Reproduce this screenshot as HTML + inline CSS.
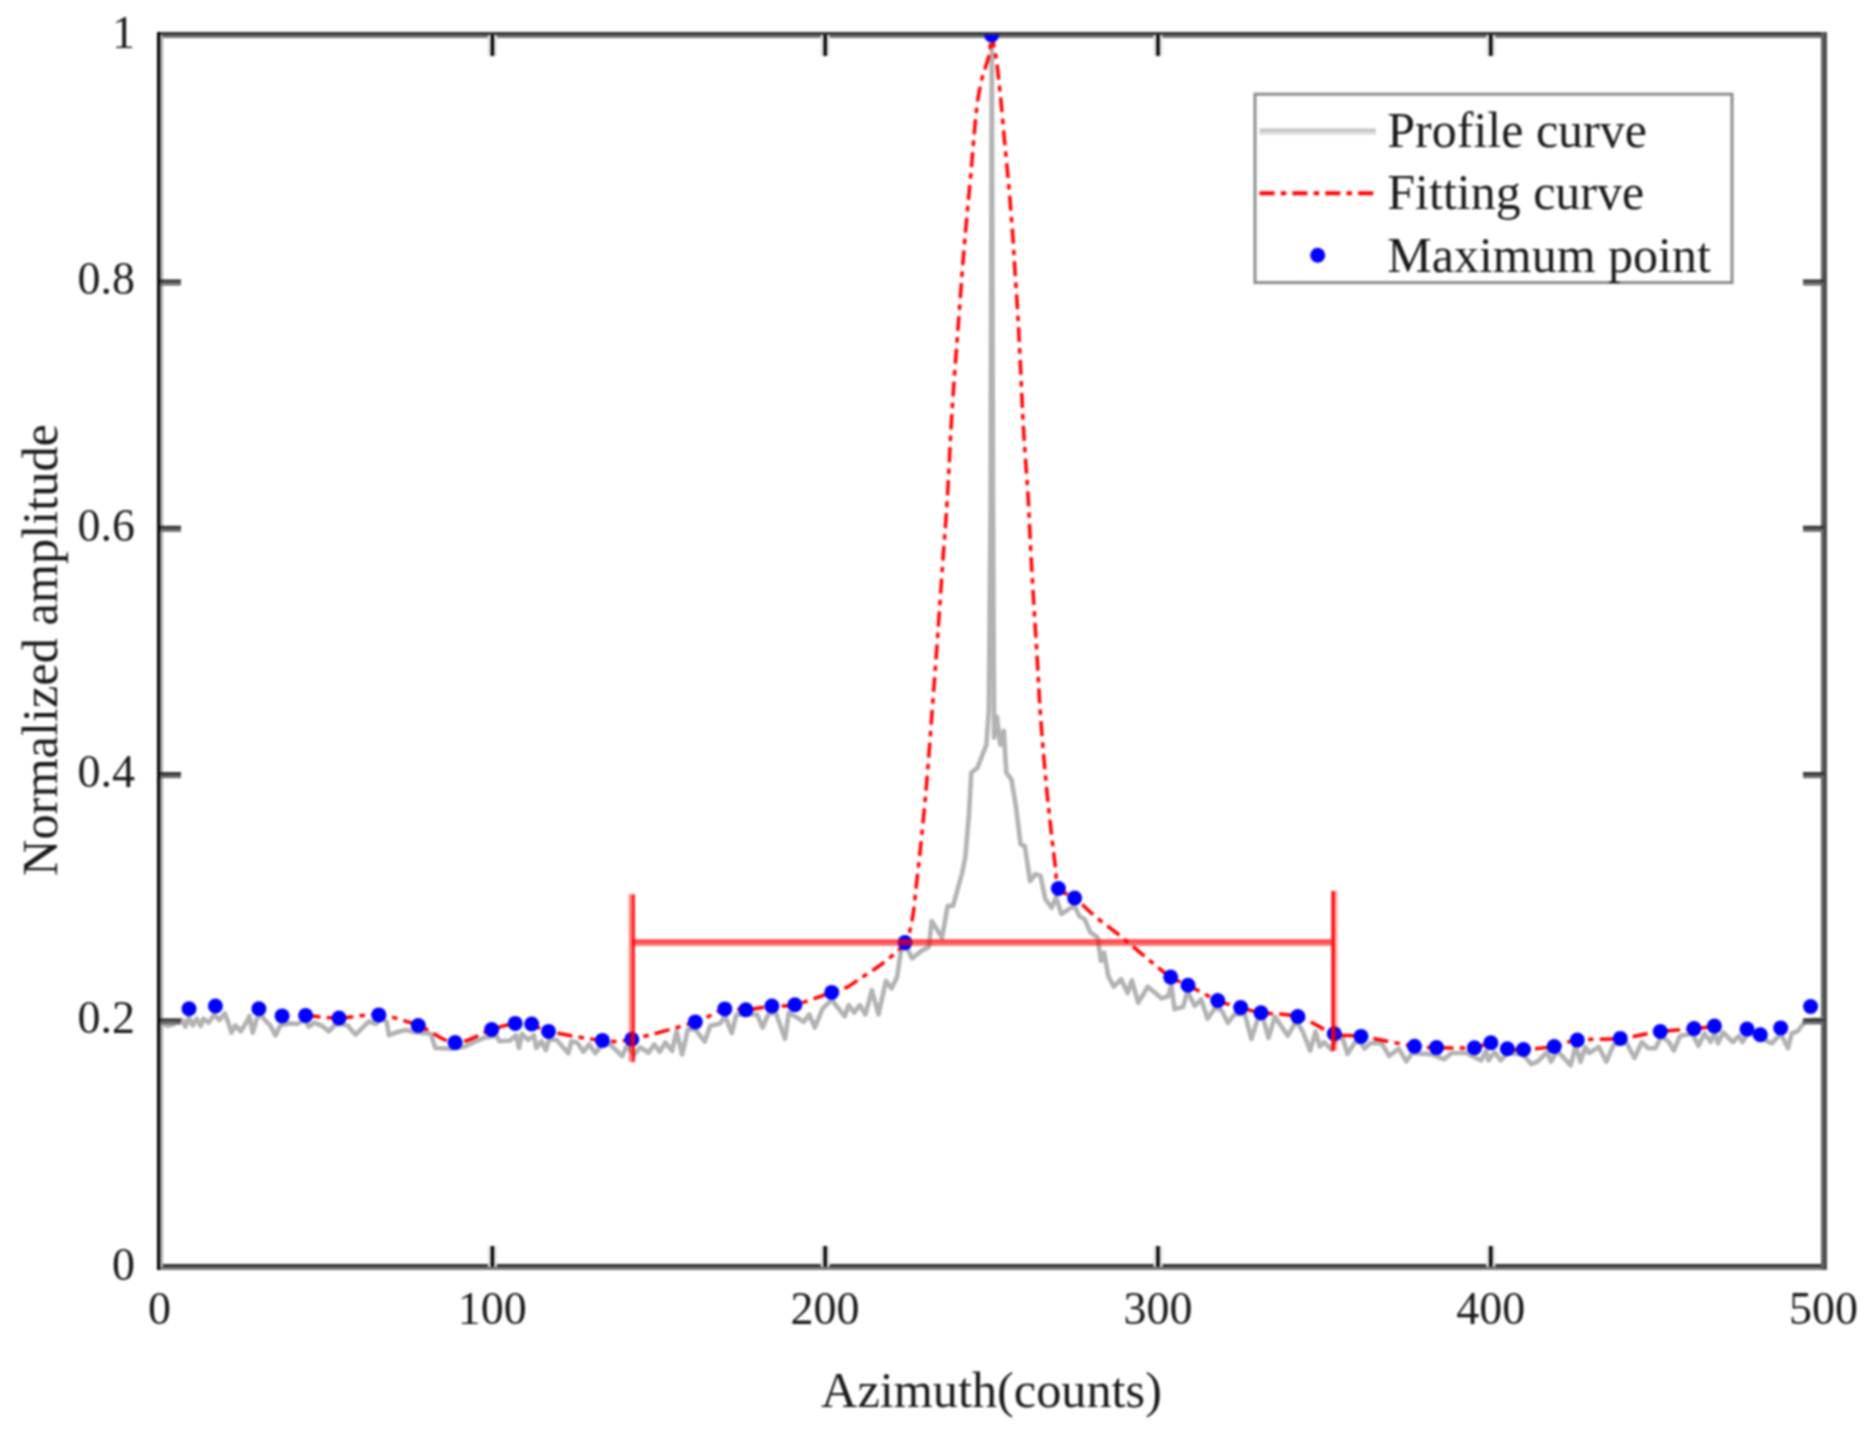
<!DOCTYPE html>
<html lang="en"><head><meta charset="utf-8"><title>Profile curve</title>
<style>html,body{margin:0;padding:0;background:#fff;}body{width:1873px;height:1430px;overflow:hidden;}svg{display:block;filter:blur(0.9px);}</style>
</head><body>
<svg width="1873" height="1430" viewBox="0 0 1873 1430">
<defs><clipPath id="plot"><rect x="160" y="35" width="1664" height="1231.7"/></clipPath></defs>
<rect width="1873" height="1430" fill="#fff"/>
<g shape-rendering="crispEdges">
<rect x="157" y="32.1" width="1670" height="3" fill="#333"/>
<rect x="157" y="35.1" width="1670" height="3" fill="#737373"/>
<rect x="157" y="1263.8" width="1670" height="3" fill="#333"/>
<rect x="157" y="1266.8" width="1670" height="3" fill="#777"/>
<rect x="157" y="32.1" width="3" height="1237.7" fill="#000"/>
<rect x="160" y="35.1" width="3" height="1231.7" fill="#a6a6a6"/>
<rect x="1821" y="32.1" width="3" height="1237.7" fill="#606060"/>
<rect x="1824" y="32.1" width="3" height="1237.7" fill="#4a4a4a"/>
</g>
<g clip-path="url(#plot)">
<g fill="none" stroke-linejoin="round" stroke-linecap="butt">
<path d="M160.0,1022.0 L167.4,1026.0 L174.0,1024.0 L182.0,1020.0 L185.4,1026.7 L188.7,1017.4 L192.7,1025.4 L196.7,1018.7 L200.7,1026.0 L203.4,1018.7 L208.7,1022.7 L214.1,1014.7 L219.4,1020.0 L224.8,1013.4 L228.8,1024.0 L231.4,1032.7 L235.4,1025.4 L240.8,1031.4 L246.1,1022.7 L249.5,1016.0 L252.8,1032.7 L256.8,1018.7 L260.8,1014.7 L264.8,1020.0 L270.2,1025.4 L275.5,1035.4 L280.2,1025.4 L288.9,1023.4 L296.9,1024.0 L304.9,1020.0 L308.9,1026.7 L314.2,1022.7 L322.2,1026.0 L328.9,1031.4 L334.2,1025.4 L340.9,1024.0 L347.6,1025.4 L355.6,1034.7 L363.6,1026.7 L369.0,1021.4 L375.6,1024.0 L382.3,1018.7 L386.7,1021.9 L389.0,1035.3 L396.4,1032.3 L406.2,1030.0 L414.4,1032.3 L430.8,1033.8 L435.3,1048.0 L451.8,1048.8 L465.2,1046.5 L475.7,1041.3 L484.6,1037.6 L496.6,1036.0 L499.6,1041.3 L510.0,1040.5 L516.0,1035.3 L519.0,1048.0 L522.0,1033.8 L528.0,1039.8 L534.0,1035.3 L536.2,1048.0 L541.5,1041.3 L545.9,1050.3 L548.9,1039.8 L556.4,1039.8 L562.4,1046.5 L568.4,1053.3 L571.4,1041.3 L577.3,1042.8 L583.3,1051.8 L589.3,1044.3 L595.3,1053.3 L601.3,1045.8 L610.2,1044.3 L616.2,1050.3 L622.2,1056.2 L626.7,1045.8 L634.2,1054.8 L640.1,1047.3 L648.6,1052.8 L654.2,1044.4 L659.8,1051.8 L665.4,1042.5 L672.0,1050.9 L676.6,1031.3 L682.2,1054.6 L687.8,1029.4 L695.3,1029.4 L704.7,1041.6 L710.3,1025.7 L719.6,1023.8 L725.2,1016.3 L731.8,1033.1 L736.4,1014.5 L749.5,1014.5 L757.0,1014.5 L762.6,1027.5 L768.2,1014.5 L775.7,1012.6 L785.0,1038.8 L788.8,1012.6 L798.1,1018.2 L803.7,1021.9 L809.3,1014.5 L814.9,1027.5 L822.4,1008.9 L831.7,999.5 L837.3,1007.0 L844.8,1016.3 L848.6,1005.1 L854.2,1012.6 L859.8,1005.1 L865.4,1014.5 L871.9,990.2 L878.5,1014.5 L885.9,980.8 L891.5,988.3 L897.1,977.1 L900.9,950.9 L906.5,947.0 L912.1,958.4 L921.4,950.9 L928.9,947.0 L931.7,921.0 L936.4,928.5 L942.0,937.8 L947.6,906.1 L953.1,905.6 L961.9,874.0 L965.4,856.6 L968.9,814.7 L971.3,772.7 L977.6,767.5 L982.9,753.5 L986.4,744.8 L988.8,709.8 L990.6,500.0 L991.8,36.0 L993.0,500.0 L994.1,737.8 L996.9,716.8 L1000.3,744.8 L1003.8,730.8 L1006.3,772.7 L1011.5,779.7 L1016.1,807.7 L1020.6,844.4 L1024.8,846.2 L1030.1,881.1 L1035.3,874.1 L1040.6,875.9 L1045.3,899.0 L1051.7,907.7 L1056.0,897.0 L1061.4,914.0 L1067.8,909.8 L1074.2,905.5 L1079.5,916.2 L1084.8,919.4 L1090.2,932.2 L1097.7,937.6 L1100.9,961.0 L1104.1,952.5 L1108.3,976.0 L1113.7,986.7 L1121.2,979.2 L1127.6,993.1 L1131.8,980.3 L1138.2,1002.7 L1147.8,986.7 L1155.3,993.1 L1161.7,998.4 L1168.1,996.3 L1171.3,984.5 L1174.5,1009.1 L1183.1,1007.0 L1187.4,991.0 L1194.8,1005.9 L1201.2,999.5 L1207.6,1018.7 L1215.1,1008.0 L1221.5,1010.2 L1227.9,1023.0 L1234.3,1014.4 L1245.0,1014.4 L1251.4,1039.0 L1257.8,1018.7 L1263.2,1018.7 L1268.5,1037.9 L1274.9,1016.6 L1287.7,1035.8 L1296.3,1020.8 L1302.7,1031.5 L1310.2,1050.7 L1315.5,1031.5 L1319.8,1046.5 L1324.0,1042.2 L1331.5,1049.7 L1336.9,1035.8 L1343.3,1040.0 L1347.5,1054.0 L1355.0,1042.2 L1360.3,1042.2 L1364.6,1048.6 L1370.0,1043.3 L1381.7,1043.3 L1389.2,1056.0 L1398.8,1048.6 L1406.3,1061.4 L1412.3,1053.0 L1432.0,1054.4 L1444.2,1059.3 L1451.6,1053.0 L1466.3,1053.0 L1481.0,1060.5 L1486.0,1050.7 L1488.4,1060.5 L1494.6,1052.0 L1500.7,1060.5 L1508.0,1053.0 L1522.8,1054.4 L1531.4,1064.2 L1537.5,1061.7 L1547.4,1052.0 L1551.0,1061.7 L1557.2,1050.7 L1570.7,1065.4 L1575.6,1045.8 L1580.5,1061.7 L1585.4,1047.0 L1589.1,1053.0 L1598.9,1047.0 L1606.3,1061.7 L1613.7,1044.6 L1626.0,1042.0 L1634.5,1058.0 L1641.9,1042.0 L1648.0,1048.2 L1655.4,1048.2 L1661.6,1036.0 L1668.9,1042.0 L1673.8,1050.7 L1680.0,1036.0 L1692.3,1033.5 L1698.4,1045.8 L1704.5,1033.5 L1710.7,1042.0 L1714.4,1032.3 L1718.0,1043.3 L1723.0,1032.3 L1732.8,1042.0 L1738.9,1036.0 L1742.6,1042.0 L1748.7,1032.3 L1761.0,1038.4 L1772.0,1043.3 L1780.7,1033.5 L1788.0,1048.2 L1791.7,1033.5 L1797.9,1031.0 L1805.2,1021.2 L1814.0,1019.5 L1824.0,1020.0" stroke="#b2b2b2" stroke-width="4.6"/>
<path d="M305.6,1015.4C311.2,1015.8 326.8,1018.1 339.0,1018.0C351.2,1017.9 365.6,1013.6 378.8,1014.9C392.0,1016.1 405.6,1020.9 418.3,1025.5C431.0,1030.1 442.9,1041.9 455.1,1042.6C467.3,1043.3 481.7,1032.7 491.7,1029.5C501.7,1026.3 508.5,1024.3 515.2,1023.4C521.9,1022.5 526.2,1022.7 531.7,1024.0C537.2,1025.3 536.7,1028.7 548.5,1031.4C560.3,1034.1 588.5,1039.1 602.4,1040.4C616.3,1041.7 616.3,1042.3 631.8,1039.2C647.3,1036.1 679.8,1027.0 695.3,1021.9C710.8,1016.8 716.4,1010.9 724.8,1008.9C733.2,1006.9 737.9,1010.3 745.8,1009.8C753.6,1009.3 763.7,1006.9 771.9,1006.0C780.1,1005.1 784.9,1007.0 794.9,1004.7C804.9,1002.4 823.1,995.3 831.7,992.4C840.3,989.5 842.0,989.7 846.7,987.4C851.4,985.1 855.5,981.5 860.0,978.5C864.5,975.5 869.3,972.7 873.8,969.6C878.3,966.5 881.8,964.5 887.0,960.0C892.2,955.5 900.8,949.3 905.0,942.6C909.2,935.9 910.3,929.3 912.2,919.6C914.1,909.9 914.8,898.6 916.4,884.6C918.0,870.6 920.0,853.1 921.7,835.7C923.5,818.3 925.1,801.0 926.9,780.0C928.6,759.0 930.5,733.3 932.2,710.0C934.0,686.7 935.6,664.5 937.4,640.0C939.1,615.5 941.1,586.3 942.7,563.0C944.3,539.7 945.8,523.5 947.2,500.0C948.7,476.5 950.1,443.7 951.4,422.0C952.7,400.3 953.7,386.6 954.9,369.7C956.1,352.8 957.4,337.0 958.6,320.7C959.8,304.4 961.2,285.4 962.2,271.8C963.2,258.2 964.0,249.9 964.9,239.0C965.8,228.1 966.8,217.3 967.8,206.4C968.8,195.5 969.9,184.5 970.9,173.6C971.9,162.7 972.6,152.2 973.6,141.0C974.6,129.8 975.7,116.1 976.9,106.4C978.1,96.7 979.5,89.6 980.9,83.0C982.3,76.4 984.1,71.8 985.5,67.0C986.9,62.2 988.3,59.3 989.3,54.0C990.3,48.7 990.8,36.0 991.6,35.0C992.4,34.0 993.4,43.8 994.2,48.0C995.0,52.2 995.8,54.9 996.5,60.0C997.2,65.1 997.8,71.3 998.6,78.7C999.4,86.1 1000.4,94.7 1001.3,104.5C1002.2,114.3 1003.2,126.4 1004.2,137.3C1005.2,148.2 1006.3,159.1 1007.3,170.0C1008.3,180.9 1009.3,191.5 1010.2,202.7C1011.1,213.9 1012.1,226.1 1012.9,237.3C1013.7,248.5 1014.1,257.9 1014.9,270.0C1015.7,282.1 1016.7,296.3 1017.5,310.0C1018.3,323.7 1018.9,333.3 1019.8,352.0C1020.7,370.7 1022.0,401.6 1023.1,422.0C1024.2,442.4 1025.7,461.5 1026.6,474.5C1027.5,487.5 1027.4,484.1 1028.3,500.0C1029.2,515.9 1030.3,543.8 1031.8,570.0C1033.3,596.2 1035.6,632.8 1037.1,657.3C1038.6,681.8 1039.1,696.4 1040.6,716.8C1042.0,737.2 1044.1,760.8 1045.8,779.7C1047.5,798.6 1049.4,815.3 1051.0,830.0C1052.6,844.7 1054.3,858.2 1055.5,868.0C1056.7,877.8 1055.2,883.5 1058.4,888.5C1061.6,893.5 1068.5,893.4 1074.6,898.0C1080.7,902.6 1086.8,909.3 1094.8,916.0C1102.8,922.7 1114.0,930.9 1122.7,938.0C1131.4,945.1 1139.2,952.0 1147.2,958.5C1155.2,965.0 1163.9,972.6 1170.7,977.1C1177.5,981.6 1180.2,981.3 1188.0,985.2C1195.8,989.1 1208.9,996.9 1217.7,1000.6C1226.5,1004.3 1233.5,1005.6 1240.7,1007.6C1247.9,1009.6 1251.5,1011.2 1261.0,1012.7C1270.5,1014.2 1285.6,1013.1 1297.8,1016.6C1310.0,1020.1 1323.8,1030.4 1334.3,1033.7C1344.8,1037.0 1347.6,1034.3 1361.0,1036.4C1374.4,1038.5 1401.9,1044.3 1414.5,1046.2C1427.1,1048.1 1426.5,1047.3 1436.5,1047.6C1446.5,1047.8 1465.3,1048.5 1474.4,1047.7C1483.5,1046.9 1485.4,1042.6 1490.9,1042.8C1496.4,1043.0 1501.9,1047.6 1507.3,1048.7C1512.7,1049.8 1515.7,1049.9 1523.5,1049.5C1531.3,1049.1 1545.2,1048.1 1554.2,1046.5C1563.2,1044.9 1566.3,1041.4 1577.3,1040.1C1588.3,1038.8 1606.5,1039.8 1620.3,1038.4C1634.1,1037.0 1648.0,1033.1 1660.3,1031.5C1672.6,1029.9 1685.0,1029.5 1694.0,1028.6C1703.0,1027.7 1711.0,1026.5 1714.4,1026.1" stroke="#ff0000" stroke-width="3.5" stroke-dasharray="15 6.2 5.5 6.2"/>
</g>
<g fill="#0000ff">
<circle cx="189.0" cy="1008.8" r="7.5"/>
<circle cx="215.4" cy="1006.0" r="7.5"/>
<circle cx="258.9" cy="1008.7" r="7.5"/>
<circle cx="282.1" cy="1015.9" r="7.5"/>
<circle cx="305.6" cy="1015.4" r="7.5"/>
<circle cx="339.0" cy="1018.0" r="7.5"/>
<circle cx="378.8" cy="1014.9" r="7.5"/>
<circle cx="418.3" cy="1025.5" r="7.5"/>
<circle cx="455.1" cy="1042.6" r="7.5"/>
<circle cx="491.7" cy="1029.5" r="7.5"/>
<circle cx="515.2" cy="1023.4" r="7.5"/>
<circle cx="531.7" cy="1024.0" r="7.5"/>
<circle cx="548.5" cy="1031.4" r="7.5"/>
<circle cx="602.4" cy="1040.4" r="7.5"/>
<circle cx="631.8" cy="1039.2" r="7.5"/>
<circle cx="695.3" cy="1021.9" r="7.5"/>
<circle cx="724.8" cy="1008.9" r="7.5"/>
<circle cx="745.8" cy="1009.8" r="7.5"/>
<circle cx="771.9" cy="1006.0" r="7.5"/>
<circle cx="794.9" cy="1004.7" r="7.5"/>
<circle cx="831.7" cy="992.4" r="7.5"/>
<circle cx="905.0" cy="942.6" r="7.5"/>
<circle cx="991.6" cy="35.0" r="7.5"/>
<circle cx="1058.4" cy="888.5" r="7.5"/>
<circle cx="1074.6" cy="898.0" r="7.5"/>
<circle cx="1170.7" cy="977.1" r="7.5"/>
<circle cx="1188.0" cy="985.2" r="7.5"/>
<circle cx="1217.7" cy="1000.6" r="7.5"/>
<circle cx="1240.7" cy="1007.6" r="7.5"/>
<circle cx="1261.0" cy="1012.7" r="7.5"/>
<circle cx="1297.8" cy="1016.6" r="7.5"/>
<circle cx="1334.3" cy="1033.7" r="7.5"/>
<circle cx="1361.0" cy="1036.4" r="7.5"/>
<circle cx="1414.5" cy="1046.2" r="7.5"/>
<circle cx="1436.5" cy="1047.6" r="7.5"/>
<circle cx="1474.4" cy="1047.7" r="7.5"/>
<circle cx="1490.9" cy="1042.8" r="7.5"/>
<circle cx="1507.3" cy="1048.7" r="7.5"/>
<circle cx="1523.5" cy="1049.5" r="7.5"/>
<circle cx="1554.2" cy="1046.5" r="7.5"/>
<circle cx="1577.3" cy="1040.1" r="7.5"/>
<circle cx="1620.3" cy="1038.4" r="7.5"/>
<circle cx="1660.3" cy="1031.5" r="7.5"/>
<circle cx="1694.0" cy="1028.6" r="7.5"/>
<circle cx="1714.4" cy="1026.1" r="7.5"/>
<circle cx="1747.0" cy="1029.1" r="7.5"/>
<circle cx="1760.3" cy="1034.7" r="7.5"/>
<circle cx="1780.7" cy="1027.9" r="7.5"/>
<circle cx="1810.6" cy="1006.5" r="7.5"/>
</g>
<g fill="#ff0000">
<rect x="628.8" y="894.3" width="3.1" height="167.7" fill-opacity="0.5"/>
<rect x="631.9" y="894.3" width="3.1" height="167.7" fill-opacity="0.87"/>
<rect x="1331.4" y="890.9" width="3.4" height="160" fill-opacity="1"/>
<rect x="1334.8" y="890.9" width="3" height="160" fill-opacity="0.31"/>
<rect x="631.9" y="939.3" width="699.5" height="3.2" fill-opacity="0.75"/>
<rect x="631.9" y="942.5" width="699.5" height="3.2" fill-opacity="0.62"/>
</g>
</g>
<g>
<rect x="487.9" y="1246.0" width="9" height="20.8" fill="#e2e2e2"/>
<rect x="490.7" y="1246.0" width="3.4" height="20.8" fill="#000"/>
<rect x="487.9" y="35.0" width="9" height="21.0" fill="#e2e2e2"/>
<rect x="490.7" y="35.0" width="3.4" height="21.0" fill="#000"/>
<rect x="820.7" y="1246.0" width="9" height="20.8" fill="#e2e2e2"/>
<rect x="823.5" y="1246.0" width="3.4" height="20.8" fill="#000"/>
<rect x="820.7" y="35.0" width="9" height="21.0" fill="#e2e2e2"/>
<rect x="823.5" y="35.0" width="3.4" height="21.0" fill="#000"/>
<rect x="1153.5" y="1246.0" width="9" height="20.8" fill="#e2e2e2"/>
<rect x="1156.3" y="1246.0" width="3.4" height="20.8" fill="#000"/>
<rect x="1153.5" y="35.0" width="9" height="21.0" fill="#e2e2e2"/>
<rect x="1156.3" y="35.0" width="3.4" height="21.0" fill="#000"/>
<rect x="1486.3" y="1246.0" width="9" height="20.8" fill="#e2e2e2"/>
<rect x="1489.1" y="1246.0" width="3.4" height="20.8" fill="#000"/>
<rect x="1486.3" y="35.0" width="9" height="21.0" fill="#e2e2e2"/>
<rect x="1489.1" y="35.0" width="3.4" height="21.0" fill="#000"/>
<rect x="160.0" y="1018.4" width="21.0" height="3" fill="#2e2e2e"/>
<rect x="160.0" y="1021.4" width="21.0" height="3" fill="#666"/>
<rect x="1803.0" y="1018.4" width="21.0" height="3" fill="#2e2e2e"/>
<rect x="1803.0" y="1021.4" width="21.0" height="3" fill="#666"/>
<rect x="160.0" y="772.1" width="21.0" height="3" fill="#2e2e2e"/>
<rect x="160.0" y="775.1" width="21.0" height="3" fill="#666"/>
<rect x="1803.0" y="772.1" width="21.0" height="3" fill="#2e2e2e"/>
<rect x="1803.0" y="775.1" width="21.0" height="3" fill="#666"/>
<rect x="160.0" y="525.8" width="21.0" height="3" fill="#2e2e2e"/>
<rect x="160.0" y="528.8" width="21.0" height="3" fill="#666"/>
<rect x="1803.0" y="525.8" width="21.0" height="3" fill="#2e2e2e"/>
<rect x="1803.0" y="528.8" width="21.0" height="3" fill="#666"/>
<rect x="160.0" y="279.5" width="21.0" height="3" fill="#2e2e2e"/>
<rect x="160.0" y="282.5" width="21.0" height="3" fill="#666"/>
<rect x="1803.0" y="279.5" width="21.0" height="3" fill="#2e2e2e"/>
<rect x="1803.0" y="282.5" width="21.0" height="3" fill="#666"/>
</g>
<g font-family="'Liberation Serif', 'Times New Roman', serif" fill="#1a1a1a">
<g font-size="46" text-anchor="middle">
<text x="159.5" y="1324">0</text>
<text x="492.3" y="1324">100</text>
<text x="825.1" y="1324">200</text>
<text x="1157.9" y="1324">300</text>
<text x="1490.7" y="1324">400</text>
<text x="1823.5" y="1324">500</text>
</g>
<g font-size="46" text-anchor="end">
<text x="135" y="1279.5">0</text>
<text x="135" y="1033.2">0.2</text>
<text x="135" y="786.9">0.4</text>
<text x="135" y="540.6">0.6</text>
<text x="135" y="294.3">0.8</text>
<text x="135" y="48.0">1</text>
</g>
<text x="991.5" y="1407" font-size="50.3" text-anchor="middle">Azimuth(counts)</text>
<text transform="translate(56.8,650) rotate(-90)" font-size="50.4" text-anchor="middle">Normalized amplitude</text>
<rect x="1255" y="94.2" width="477" height="188.4" fill="#fff" stroke="#8c8c8c" stroke-width="3"/>
<rect x="1259.5" y="128.6" width="116.3" height="3" fill="#c0c0c0"/>
<rect x="1259.5" y="131.6" width="116.3" height="3" fill="#d8d8d8"/>
<path d="M1259.5,193.2H1375.8" stroke="#ff0000" stroke-width="4" stroke-dasharray="15 6.2 5.5 6.2"/>
<circle cx="1317.7" cy="255.3" r="7.5" fill="#0000ff"/>
<g font-size="50">
<text x="1387.3" y="147">Profile curve</text>
<text x="1387.3" y="209">Fitting curve</text>
<text x="1387.3" y="272">Maximum point</text>
</g></g>
</svg>
</body></html>
